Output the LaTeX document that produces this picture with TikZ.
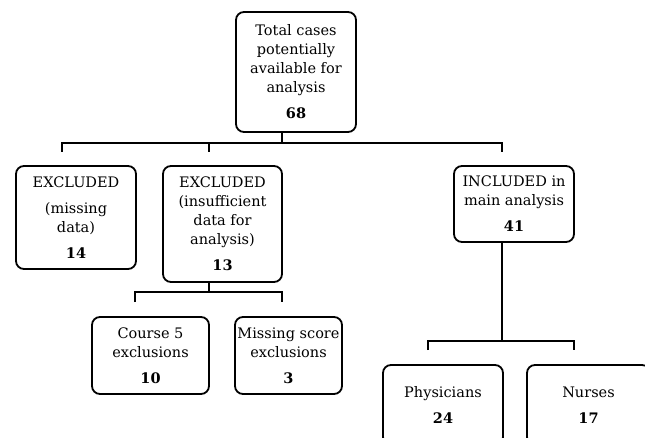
\documentclass[tikz,border=0pt]{standalone}
\usepackage{fontspec}
\setmainfont{DejaVu Serif}
\usepackage{tikz}
\usetikzlibrary{positioning,calc}

\tikzset{
  box/.style={draw, line width=1.8pt, rounded corners=8pt, align=center,
    inner sep=0pt, font=\fontsize{14.5}{19}\selectfont},
  link/.style={line width=1.8pt}
}

\begin{document}
\begin{tikzpicture}[x=1pt,y=-1pt]
\useasboundingbox (0,0) rectangle (645,438);
\clip (0,0) rectangle (645,438);

%%% top box
\node[box,minimum width=120pt,minimum height=120pt] (total) at (296,72)
  {Total cases\\potentially\\available for\\analysis\\[7pt]\textbf{68}};

%%% second row
\node[box,minimum width=120pt,minimum height=103pt] (missing) at (76,217.5)
  {EXCLUDED\\[7pt](missing\\data)\\[7pt]\textbf{14}};
\node[box,minimum width=119pt,minimum height=116pt] (insuff) at (222.5,224)
  {EXCLUDED\\(insufficient\\data for\\analysis)\\[7pt]\textbf{13}};
\node[box,minimum width=120pt,minimum height=76pt] (incl) at (514,204)
  {INCLUDED in\\main analysis\\[7pt]\textbf{41}};

%%% third row
\node[box,minimum width=117pt,minimum height=77pt] (course) at (150.5,355.5)
  {Course 5\\exclusions\\[7pt]\textbf{10}};
\node[box,minimum width=107pt,minimum height=77pt] (score) at (288.5,355.5)
  {Missing score\\exclusions\\[7pt]\textbf{3}};
\node[box,minimum width=120pt,minimum height=80pt] (phys) at (443,405)
  {Physicians\\[7pt]\textbf{24}};
\node[box,minimum width=123pt,minimum height=80pt] (nurses) at (588.5,405)
  {Nurses\\[7pt]\textbf{17}};

%%% connectors
\coordinate (tap) at (282,143);
\coordinate (busL) at (62,143);
\coordinate (busM) at (209,143);
\coordinate (busR) at (502,143);
\draw[link] (total.south -| tap) -- (tap);
\draw[link] (busL) ++(0,9) -- (busL) -- (busR) -- ++(0,9);
\draw[link] (busM) -- ++(0,9);

\coordinate (tap2) at (209,292);
\coordinate (bus2L) at (135,292);
\coordinate (bus2R) at (282,292);
\draw[link] (insuff.south -| tap2) -- (tap2);
\draw[link] (bus2L) ++(0,10) -- (bus2L) -- (bus2R) -- ++(0,10);

\coordinate (tap3) at (502,341);
\coordinate (bus3L) at (428,341);
\coordinate (bus3R) at (574,341);
\draw[link] (incl.south -| tap3) -- (tap3);
\draw[link] (bus3L) ++(0,9) -- (bus3L) -- (bus3R) -- ++(0,9);

\end{tikzpicture}
\end{document}
